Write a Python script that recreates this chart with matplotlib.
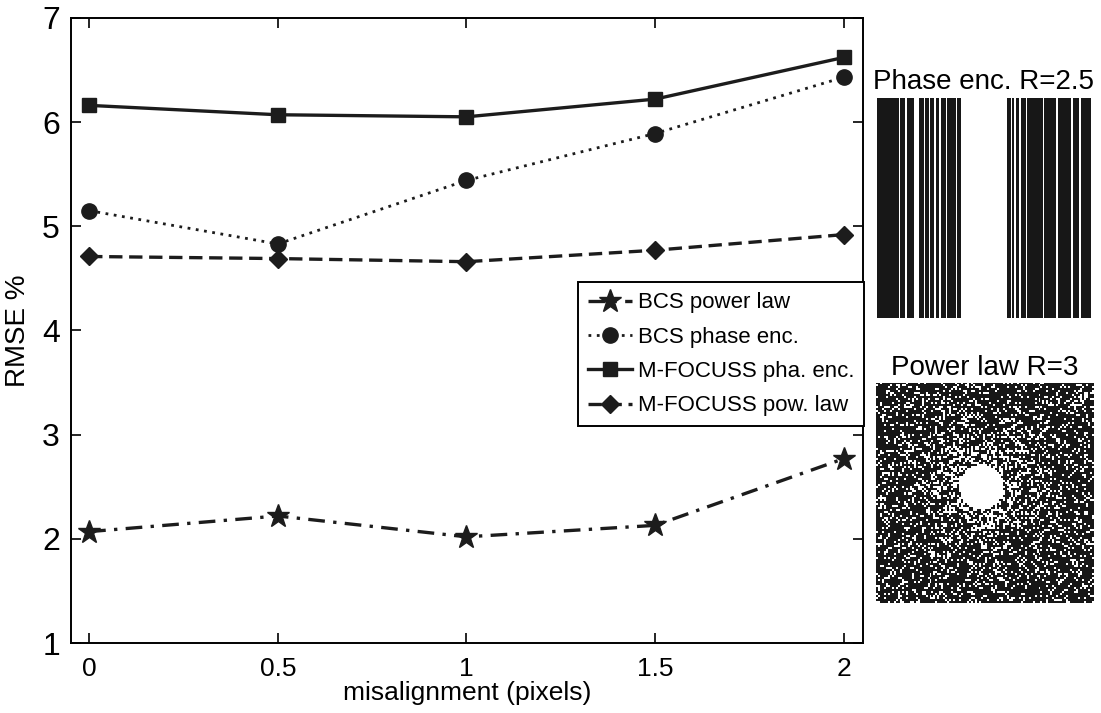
import matplotlib.pyplot as plt
import numpy as np

# data
misalign = [0, 0.5, 1, 1.5, 2]
bcs_pow = [2.07, 2.22, 2.02, 2.13, 2.77]
bcs_pha = [5.15, 4.83, 5.44, 5.89, 6.43]
mf_pha = [6.16, 6.07, 6.05, 6.22, 6.62]
mf_pow = [4.71, 4.69, 4.66, 4.77, 4.92]

# phase encoding mask: columns left unsampled (white)
n_cols = 128
white_cols = [13, 17, 22, 23, 24, 28, 31, 34, 37, 41, 47] + list(range(50, 78)) \
    + [80, 82, 85, 89, 99, 107, 116, 121]

plt.rcParams['font.family'] = ['Liberation Sans', 'DejaVu Sans']

fig = plt.figure(figsize=(11.01, 7.13), dpi=100)
ax = fig.add_axes([0.0645, 0.098, 0.719, 0.877])

c = '#1c1c1c'
ax.plot(misalign, bcs_pow, color=c, ls=(0, (5, 2.5, 1, 2.5)), lw=2.4,
        marker='*', ms=17, label='BCS power law')
ax.plot(misalign, bcs_pha, color=c, ls=(0, (1, 2)), lw=2,
        marker='o', ms=11, label='BCS phase enc.')
ax.plot(misalign, mf_pha, color=c, ls='-', lw=2.4,
        marker='s', ms=10, label='M-FOCUSS pha. enc.')
ax.plot(misalign, mf_pow, color=c, ls=(0, (4, 2)), lw=2.4,
        marker='D', ms=9, label='M-FOCUSS pow. law')

ax.set_xlim(-0.048, 2.05)
ax.set_ylim(1, 7)
ax.set_xticks(misalign)
ax.set_xticklabels(['0', '0.5', '1', '1.5', '2'])
ax.set_yticks(range(1, 8))
ax.tick_params(direction='in', top=True, right=True, length=7, width=1.2)
ax.tick_params(axis='y', labelsize=23, pad=8)
ax.tick_params(axis='x', labelsize=19, pad=10)
for s in ax.spines.values():
    s.set_linewidth(1.4)
ax.set_xlabel('misalignment (pixels)', fontsize=19, labelpad=0)
ax.set_ylabel('RMSE %', fontsize=20, labelpad=8)

leg = ax.legend(loc='upper left', bbox_to_anchor=(0.64, 0.577), fontsize=16,
                handlelength=2.0, handletextpad=0.25, borderpad=0.45,
                labelspacing=0.6, borderaxespad=0, fancybox=False,
                edgecolor='black', framealpha=1)
leg.get_frame().set_linewidth(1.4)

# phase encoding mask inset
ax1 = fig.add_axes([0.7965, 0.554, 0.194, 0.309])
cols = np.ones(n_cols)
cols[white_cols] = 0
ax1.imshow(np.tile(cols, (128, 1)), cmap='gray_r', vmin=0, vmax=1.1,
           aspect='auto', interpolation='nearest')
ax1.axis('off')
ax1.set_title('Phase enc. R=2.5', fontsize=20, pad=6)

# power law mask inset (texture only)
ax2 = fig.add_axes([0.7955, 0.154, 0.198, 0.309])
n = 110
yy, xx = np.mgrid[0:n, 0:n]
r = np.hypot(xx - n * 0.48, yy - n * 0.47) / n
prob = np.clip(0.8 - 0.4 * np.exp(-(r / 0.2) ** 2), 0, 1)
prob[r < 0.1] = 0
rng = np.random.default_rng(3)
mask = (rng.random((n, n)) < prob).astype(float)
ax2.imshow(mask, cmap='gray_r', vmin=0, vmax=1.1, aspect='auto', interpolation='nearest')
ax2.axis('off')
ax2.set_title('Power law R=3', fontsize=20, pad=6)

fig.savefig('out.png', dpi=100)
